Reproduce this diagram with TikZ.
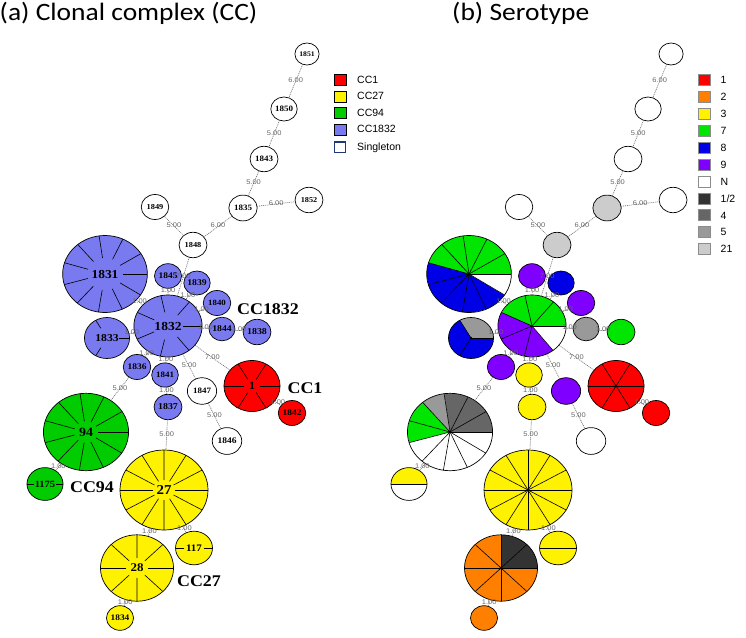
\documentclass[tikz,border=0pt]{standalone}
\usepackage{fontspec}
\setmainfont{Liberation Serif}
\newfontfamily\calfont{Carlito}
\newfontfamily\arifont{Liberation Sans}
\usetikzlibrary{calc}
\definecolor{cblue}{RGB}{122,122,240}
\definecolor{cgreen}{RGB}{0,204,0}
\definecolor{cgreenb}{RGB}{0,230,0}
\definecolor{cblueb}{RGB}{0,0,230}
\definecolor{cpurp}{RGB}{128,0,255}
\definecolor{corange}{RGB}{255,128,0}
\definecolor{ghalf}{RGB}{51,51,51}
\definecolor{gfour}{RGB}{102,102,102}
\definecolor{gfive}{RGB}{153,153,153}
\definecolor{gtwo}{RGB}{204,204,204}
\definecolor{navy}{RGB}{31,56,120}
\tikzset{
  nd/.style={circle, inner sep=0pt, outer sep=0pt, line width=0.7pt},
  lnk/.style={draw=gray!85!black, line width=0.6pt, dash pattern=on 1pt off 0.9pt},
  elab/.style={font=\arifont\fontsize{6.8}{7.5}\selectfont, text=black!60, inner sep=0.3pt, yshift=1pt},
  cclab/.style={font=\bfseries\fontsize{16.3}{18}\selectfont, inner sep=0pt},
  leg/.style={inner sep=0pt, minimum width=12pt, minimum height=11pt, line width=0.6pt},
  legtxt/.style={anchor=west, inner sep=0pt, font=\arifont\fontsize{10.5}{12}\selectfont},
}
% panel (a) node: name, x, y, r, N, colour, label, font size, inner fraction of spokes
\newcommand\anode[9]{%
  \node[nd, draw, fill=#6, minimum size=2*#4pt] (#1) at (#2,#3) {};
  \ifnum#5>1
    \foreach \kk in {1,...,#5}{%
      \pgfmathsetmacro\angA{\kk*360/#5}%
      \draw[line width=0.6pt] ($(#1.center)!#9!(#1.\angA)$) -- (#1.\angA);}%
  \fi
  \node[font=\bfseries\fontsize{#8}{#8}\selectfont, inner sep=0pt] (#1l) at (#1.center) {#7};
}
% panel (b) node: name, x, y, r, N, list of sector colours
\newcommand\bnode[6]{%
  \node[nd, minimum size=2*#4pt] (#1) at (#2,#3) {};
  \foreach \col [count=\kk from 0] in {#6}{%
    \pgfmathsetmacro\angA{\kk*360/#5}%
    \pgfmathsetmacro\angB{(\kk+1)*360/#5}%
    \fill[\col] (#1.center) -- (#1.\angA) arc[start angle=\angA, end angle=\angB, radius=#4pt] -- cycle;}%
  \ifnum#5>1
    \foreach \kk in {1,...,#5}{%
      \pgfmathsetmacro\angA{\kk*360/#5}%
      \draw[line width=0.6pt] (#1.center) -- (#1.\angA);}%
  \fi
  \ifnum#5>2 \fill (#1.center) circle[radius=1.3pt];\fi
  \draw[line width=0.7pt] (#1.center) circle[radius=#4pt];
}
\newcommand\alledges[1]{%
\draw[lnk] (#11851) -- node[elab]{6.00} (#11850);
\draw[lnk] (#11850) -- node[elab]{5.00} (#11843);
\draw[lnk] (#11843) -- node[elab]{5.00} (#11835);
\draw[lnk] (#11835) -- node[elab]{6.00} (#11852);
\draw[lnk] (#11835) -- node[elab]{6.00} (#11848);
\draw[lnk] (#11849) -- node[elab]{5.00} (#11848);
\draw[lnk] (#11848) -- node[elab]{7.00} (#11832);
\draw[lnk] (#11845) -- node[elab]{1.00} (#11832);
\draw[lnk] (#11839) -- node[elab]{1.00} (#11832);
\draw[lnk] (#11840) -- node[elab]{1.00} (#11832);
\draw[lnk] (#11831) -- node[elab]{1.00} (#11832);
\draw[lnk] (#11833) -- node[elab]{1.00} (#11832);
\draw[lnk] (#11844) -- node[elab]{1.00} (#11832);
\draw[lnk] (#11844) -- node[elab]{1.00} (#11838);
\draw[lnk] (#11836) -- node[elab]{1.00} (#11832);
\draw[lnk] (#11841) -- node[elab]{1.00} (#11832);
\draw[lnk] (#11847) -- node[elab]{5.00} (#11832);
\draw[lnk] (#11) -- node[elab]{7.00} (#11832);
\draw[lnk] (#11841) -- node[elab]{1.00} (#11837);
\draw[lnk] (#11847) -- node[elab]{5.00} (#11846);
\draw[lnk] (#11) -- node[elab]{1.00} (#11842);
\draw[lnk] (#11837) -- node[elab]{5.00} (#127);
\draw[lnk] (#11836) -- node[elab]{5.00} (#194);
\draw[lnk] (#194) -- node[elab]{1.00} (#11175);
\draw[lnk] (#127) -- node[elab]{1.00} (#128);
\draw[lnk] (#127) -- node[elab]{1.00} (#1117);
\draw[lnk] (#128) -- node[elab]{1.00} (#11834);
}
\begin{document}
\begin{tikzpicture}[x=1pt,y=-1pt]
\useasboundingbox (0,0) rectangle (746,637);
\fill[white] (0,0) rectangle (746,637);
\begin{scope}[xscale=1.1, transform shape, x=0.909091pt, y=-1pt]
  \node[anchor=base west, inner sep=0pt, font=\calfont\fontsize{25}{30}\selectfont] (ta) at (-0.5,20.5) {(a) Clonal complex (CC)};
  \node[anchor=base west, inner sep=0pt, font=\calfont\fontsize{25}{30}\selectfont] (tb) at (452,20.5) {(b) Serotype};
  % ---------- panel (a)
  \anode{a1851}{307}{54}{11}{1}{white}{1851}{7}{0}
  \anode{a1850}{284}{109}{12}{1}{white}{1850}{8.2}{0}
  \anode{a1843}{264}{159}{12.7}{1}{white}{1843}{8.2}{0}
  \anode{a1835}{243}{208}{12.9}{1}{white}{1835}{8.2}{0}
  \anode{a1852}{309}{200}{12.7}{1}{white}{1852}{7.5}{0}
  \anode{a1849}{155}{207}{12.5}{1}{white}{1849}{7.6}{0}
  \anode{a1848}{193}{245}{12.7}{1}{white}{1848}{7.6}{0}
  \anode{a1831}{105}{274}{38.5}{11}{cblue}{1831}{12.2}{0.42}
  \anode{a1845}{168}{276}{12.3}{1}{cblue}{1845}{8.6}{0}
  \anode{a1839}{197}{283}{12}{1}{cblue}{1839}{8.8}{0}
  \anode{a1840}{217}{303}{12.5}{1}{cblue}{1840}{8}{0}
  \anode{a1832}{168}{326}{31}{7}{cblue}{1832}{12.3}{0.45}
  \anode{a1833}{107}{338}{20.5}{3}{cblue}{1833}{10.6}{0.55}
  \anode{a1844}{222}{329}{11.8}{1}{cblue}{1844}{8.8}{0}
  \anode{a1838}{257}{332}{12.7}{1}{cblue}{1838}{9}{0}
  \anode{a1836}{137}{367}{12.5}{1}{cblue}{1836}{8.6}{0}
  \anode{a1841}{165}{375}{12.1}{1}{cblue}{1841}{8.2}{0}
  \anode{a1847}{202}{391}{13.3}{1}{white}{1847}{8.2}{0}
  \anode{a1837}{168}{407}{12.7}{1}{cblue}{1837}{9}{0}
  \anode{a1846}{227}{441}{13.4}{1}{white}{1846}{8.6}{0}
  \anode{a1}{252}{386}{25.5}{6}{red}{1}{11}{0.3}
  \anode{a1842}{292}{413}{12.5}{1}{red}{1842}{8.6}{0}
  \anode{a94}{86}{432}{38.7}{11}{cgreen}{94}{12.7}{0.28}
  \anode{a1175}{45}{484}{16.4}{2}{cgreen}{1175}{9.5}{0.62}
  \anode{a27}{164}{490}{40}{12}{yellow}{27}{13.6}{0.25}
  \anode{a117}{194}{548}{16.8}{2}{yellow}{117}{10}{0.52}
  \anode{a28}{137}{568}{33.2}{8}{yellow}{28}{11.8}{0.3}
  \anode{a1834}{120}{618}{12.3}{1}{yellow}{1834}{8.5}{0}
  \alledges{a}
  \node[cclab] (lcc1832) at (268,309.5) {CC1832};
  \node[cclab] (lcc1) at (305,388.5) {CC1};
  \node[cclab] (lcc94) at (92,487) {CC94};
  \node[cclab] (lcc27) at (199,581.5) {CC27};
  % ---------- panel (b)
  \begin{scope}[xshift=330.909pt]
  \bnode{b1851}{307}{54}{11}{1}{white}
  \bnode{b1850}{284}{109}{12}{1}{white}
  \bnode{b1843}{264}{159}{12.7}{1}{white}
  \bnode{b1835}{243}{208}{12.9}{1}{gtwo}
  \bnode{b1852}{309}{200}{12.7}{1}{white}
  \bnode{b1849}{155}{207}{12.5}{1}{white}
  \bnode{b1848}{193}{245}{12.7}{1}{gtwo}
  \bnode{b1831}{105}{274}{38.5}{11}{cgreenb,cgreenb,cgreenb,cgreenb,cgreenb,cblueb,cblueb,cblueb,cblueb,cblueb,white}
  \bnode{b1845}{168}{276}{12.3}{1}{cpurp}
  \bnode{b1839}{197}{283}{12}{1}{cblueb}
  \bnode{b1840}{217}{303}{12.5}{1}{cpurp}
  \bnode{b1832}{168}{326}{31}{7}{cgreenb,cgreenb,cgreenb,cpurp,cpurp,cpurp,white}
  \bnode{b1833}{107}{338}{20.5}{3}{gfive,cblueb,cblueb}
  \bnode{b1844}{222}{329}{11.8}{1}{gfive}
  \bnode{b1838}{257}{332}{12.7}{1}{cgreenb}
  \bnode{b1836}{137}{367}{12.5}{1}{cpurp}
  \bnode{b1841}{165}{375}{12.1}{1}{yellow}
  \bnode{b1847}{202}{391}{13.3}{1}{cpurp}
  \bnode{b1837}{168}{407}{12.7}{1}{yellow}
  \bnode{b1846}{227}{441}{13.4}{1}{white}
  \bnode{b1}{252}{386}{25.5}{6}{red,red,red,red,red,red}
  \bnode{b1842}{292}{413}{12.5}{1}{red}
  \bnode{b94}{86}{432}{38.7}{11}{gfour,gfour,gfour,gfive,cgreenb,cgreenb,white,white,white,white,white}
  \bnode{b1175}{45}{484}{16.4}{2}{yellow,white}
  \bnode{b27}{164}{490}{40}{12}{yellow,yellow,yellow,yellow,yellow,yellow,yellow,yellow,yellow,yellow,yellow,yellow}
  \bnode{b117}{194}{548}{16.8}{2}{yellow,yellow}
  \bnode{b28}{137}{568}{33.2}{8}{ghalf,ghalf,corange,corange,corange,corange,corange,corange}
  \bnode{b1834}{120}{618}{12.3}{1}{corange}
  \alledges{b}
  \end{scope}
\end{scope}
% ---------- legend (a)
\node[leg, draw=black, fill=red] (la1) at (340,80) {};
\node[leg, draw=black, fill=yellow] (la2) at (340,96.3) {};
\node[leg, draw=black, fill=cgreen] (la3) at (340,112.5) {};
\node[leg, draw=black, fill=cblue] (la4) at (340,129.3) {};
\node[leg, draw=navy, fill=white, line width=1.4pt, minimum width=11pt, minimum height=10.5pt] (la5) at (340,147.3) {};
\node[legtxt] (lta1) at (357,80) {CC1};
\node[legtxt] (lta2) at (357,96.3) {CC27};
\node[legtxt] (lta3) at (357,112.5) {CC94};
\node[legtxt] (lta4) at (357,129.3) {CC1832};
\node[legtxt] (lta5) at (357,147.3) {Singleton};
% ---------- legend (b)
\foreach \col/\txt [count=\i from 0] in {red/1, corange/2, yellow/3, cgreenb/7, cblueb/8, cpurp/9, white/N, ghalf/1\slash 2, gfour/4, gfive/5, gtwo/21}{
  \node[leg, draw=gray!90, line width=0.9pt, fill=\col] (lb\i) at (704.5,{80+16.93*\i}) {};
  \node[legtxt] (ltb\i) at (720.5,{80+16.93*\i}) {\txt};
}
\end{tikzpicture}
\end{document}
